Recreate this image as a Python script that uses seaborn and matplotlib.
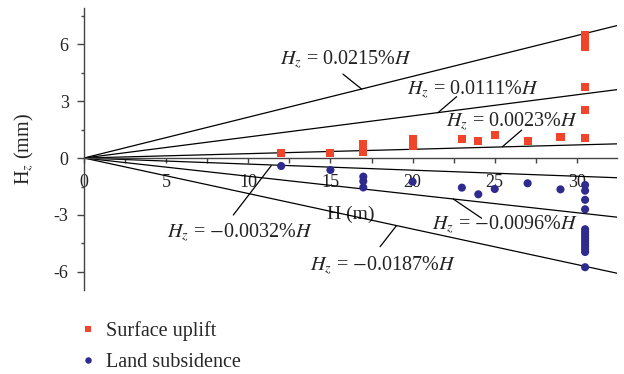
import numpy as np
import pandas as pd
import seaborn as sns
import matplotlib.pyplot as plt
from matplotlib.ticker import MultipleLocator

uplift_H = [12, 15, 17, 17, 17, 20, 20, 23, 24, 25, 27, 29,
            30.5, 30.5, 30.5, 30.5, 30.5, 30.5, 30.5, 30.5]
uplift_Hz = [0.27, 0.28, 0.3, 0.5, 0.72, 0.62, 1.0, 1.0, 0.91, 1.21, 0.91, 1.12,
             1.07, 2.53, 3.72, 5.85, 6.0, 6.15, 6.3, 6.45]

subs_H = [12, 15, 17, 17, 17, 20, 23, 24, 25, 27, 29,
          30.5, 30.5, 30.5, 30.5, 30.5, 30.5, 30.5, 30.5, 30.5, 30.5, 30.5, 30.5, 30.5, 30.5]
subs_Hz = [-0.42, -0.63, -0.98, -1.22, -1.55, -1.25, -1.56, -1.91, -1.63, -1.33, -1.65,
           -1.42, -1.72, -2.2, -2.7, -3.75, -3.9, -4.05, -4.2, -4.35, -4.5, -4.65, -4.8, -4.95, -5.75]

# fitted ratios (% of H), Hz in mm with H in m -> slope = pct * 10
fit_pct = [0.0215, 0.0111, 0.0023, -0.0032, -0.0096, -0.0187]
fit_labels = [r'$H_z$ = 0.0215%$H$', r'$H_z$ = 0.0111%$H$', r'$H_z$ = 0.0023%$H$',
              r'$H_z$ = $-$0.0032%$H$', r'$H_z$ = $-$0.0096%$H$', r'$H_z$ = $-$0.0187%$H$']
# label centre and leader line (text end -> line end), data coordinates
label_xy = [(15.95, 5.2), (23.7, 3.6), (26.05, 1.9), (9.5, -3.95), (25.6, -3.53), (18.2, -5.68)]
leader = [((15.76, 4.42), (16.9, 3.63)), ((22.68, 3.23), (21.55, 2.39)),
          ((26.64, 1.47), (25.46, 0.59)), ((9.09, -3.0), (11.4, -0.4)),
          ((24.2, -3.17), (22.48, -2.16)), ((18.02, -4.67), (19.02, -3.56))]

x_max = 32.45

sns.set_theme(style='ticks')
plt.rcParams['font.family'] = ['Liberation Serif', 'DejaVu Serif']
plt.rcParams['mathtext.fontset'] = 'stix'
plt.rcParams['axes.unicode_minus'] = False

df = pd.DataFrame({
    'H': uplift_H + subs_H,
    'Hz': uplift_Hz + subs_Hz,
    'kind': ['Surface uplift'] * len(uplift_H) + ['Land subsidence'] * len(subs_H),
})

fig = plt.figure(figsize=(6.24, 3.74), dpi=100)
ax = fig.add_axes([0.1346, 0.2246, 0.8544, 0.7540])

h_range = np.array([0, x_max])
for pct in fit_pct:
    ax.plot(h_range, pct * 10 * h_range, color='black', lw=0.9, zorder=2)

sns.scatterplot(data=df, x='H', y='Hz', hue='kind', style='kind',
                markers={'Surface uplift': 's', 'Land subsidence': 'o'},
                palette={'Surface uplift': '#f0452b', 'Land subsidence': '#2f2a8e'},
                s=34, linewidth=0, ax=ax, zorder=3)

for lab, (tx, ty), (p0, p1) in zip(fit_labels, label_xy, leader):
    ax.text(tx, ty, lab, ha='center', va='center', fontsize=14.5, color='#222222')
    ax.plot([p0[0], p1[0]], [p0[1], p1[1]], color='black', lw=0.9)

ax.set_xlim(0, x_max)
ax.set_ylim(-6.95, 7.9)
ax.spines['left'].set_position(('data', 0))
ax.spines['bottom'].set_position(('data', 0))
ax.spines['top'].set_visible(False)
ax.spines['right'].set_visible(False)
for sp in ('left', 'bottom'):
    ax.spines[sp].set_color('#444444')
    ax.spines[sp].set_linewidth(1.0)

ax.xaxis.set_major_locator(MultipleLocator(5))
ax.xaxis.set_minor_locator(MultipleLocator(2.5))
ax.yaxis.set_major_locator(MultipleLocator(3))
ax.yaxis.set_minor_locator(MultipleLocator(1.5))
ax.tick_params(axis='both', which='major', labelsize=13, colors='#444444', labelcolor='#222222')
ax.tick_params(axis='x', which='major', length=3.5, width=1.0, pad=8)
ax.tick_params(axis='x', which='minor', length=3.5, width=1.0, colors='#444444')
ax.tick_params(axis='y', which='major', length=5, width=1.0, pad=6)
ax.tick_params(axis='y', which='minor', length=2.5, width=1.0, colors='#444444')
ax.set_xticks([0, 5, 10, 15, 20, 25, 30])
ax.set_yticks([-6, -3, 0, 3, 6])

ax.set_xlabel('H (m)', fontsize=14, color='#222222')
ax.xaxis.set_label_coords(0.5, 0.3)
ax.set_ylabel(r'H$_z$ (mm)', fontsize=14.5, color='#222222')
ax.yaxis.set_label_coords(-0.09, 0.5)

handles, labels = ax.get_legend_handles_labels()
ax.legend_.remove()
fig.legend(handles, labels, loc='upper left', bbox_to_anchor=(0.087, 0.19),
           frameon=False, fontsize=14.5, handletextpad=0.15, labelspacing=0.58,
           handlelength=1.5, markerscale=0.8)

fig.savefig('out.png', dpi=100)
